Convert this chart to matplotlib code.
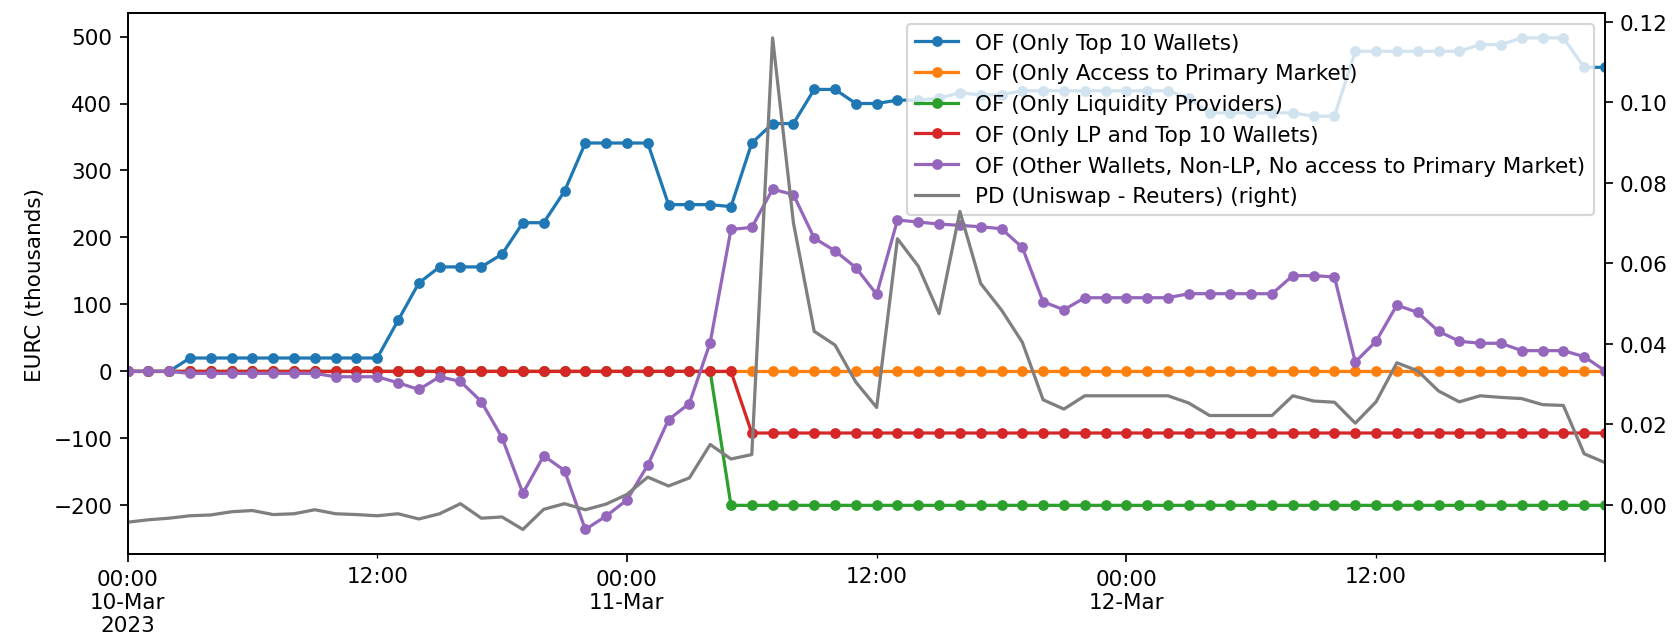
import matplotlib
matplotlib.use("Agg")
import matplotlib.pyplot as plt
import pandas as pd

# hourly, 10-Mar-2023 00:00 .. 12-Mar-2023 23:00
start = "2023-03-10 00:00"
n_hours = 72

top10 = [0, 0, 0, 20, 20, 20, 20, 20, 20, 20, 20, 20,
         20, 76, 132, 156, 156, 156, 175, 222, 222, 269, 341, 341,
         341, 341, 249, 249, 249, 246, 341, 370, 370, 421, 421, 400,
         400, 405, 405, 408, 416, 413, 413, 419, 419, 419, 419, 419,
         419, 419, 419, 408, 386, 386, 386, 386, 386, 381, 381, 478,
         478, 478, 478, 478, 478, 488, 488, 498, 498, 498, 454, 454]

primary = [0, 0, 0, 0, 0, 0, 0, 0, 0, 0, 0, 0,
           0, 0, 0, 0, 0, 0, 0, 0, 0, 0, 0, 0,
           0, 0, 0, 0, 0, 0, 0, 0, 0, 0, 0, 0,
           0, 0, 0, 0, 0, 0, 0, 0, 0, 0, 0, 0,
           0, 0, 0, 0, 0, 0, 0, 0, 0, 0, 0, 0,
           0, 0, 0, 0, 0, 0, 0, 0, 0, 0, 0, 0]

lp = [0, 0, 0, 0, 0, 0, 0, 0, 0, 0, 0, 0,
      0, 0, 0, 0, 0, 0, 0, 0, 0, 0, 0, 0,
      0, 0, 0, 0, 0, -200, -200, -200, -200, -200, -200, -200,
      -200, -200, -200, -200, -200, -200, -200, -200, -200, -200, -200, -200,
      -200, -200, -200, -200, -200, -200, -200, -200, -200, -200, -200, -200,
      -200, -200, -200, -200, -200, -200, -200, -200, -200, -200, -200, -200]

lp_top10 = [0, 0, 0, 0, 0, 0, 0, 0, 0, 0, 0, 0,
            0, 0, 0, 0, 0, 0, 0, 0, 0, 0, 0, 0,
            0, 0, 0, 0, 0, 0, -92, -92, -92, -92, -92, -92,
            -92, -92, -92, -92, -92, -92, -92, -92, -92, -92, -92, -92,
            -92, -92, -92, -92, -92, -92, -92, -92, -92, -92, -92, -92,
            -92, -92, -92, -92, -92, -92, -92, -92, -92, -92, -92, -92]

other = [0, 0, 0, -3, -3, -3, -3, -3, -3, -3, -8, -8,
         -8, -17, -27, -8, -15, -45, -99, -182, -126, -148, -236, -216,
         -192, -140, -72, -48, 43, 212, 215, 272, 264, 199, 180, 155,
         115, 226, 223, 220, 218, 216, 213, 185, 104, 92, 110, 110,
         110, 110, 110, 116, 116, 116, 116, 116, 143, 143, 141, 14,
         45, 99, 88, 60, 45, 42, 42, 31, 31, 31, 22, 1]

price_diff = [-0.0043, -0.0037, -0.0033, -0.0027, -0.0025, -0.0017, -0.0014, -0.0024, -0.0022, -0.0012, -0.0022, -0.0024,
              -0.0027, -0.0022, -0.0035, -0.0022, 0.0003, -0.0033, -0.0030, -0.0061, -0.0011, 0.0003, -0.0012, 0.0002,
              0.0026, 0.0069, 0.0047, 0.0067, 0.0150, 0.0114, 0.0125, 0.1160, 0.0701, 0.0431, 0.0397, 0.0305,
              0.0242, 0.0661, 0.0593, 0.0475, 0.0729, 0.0550, 0.0484, 0.0404, 0.0261, 0.0238, 0.0271, 0.0271,
              0.0271, 0.0271, 0.0271, 0.0253, 0.0222, 0.0222, 0.0222, 0.0222, 0.0271, 0.0258, 0.0255, 0.0203,
              0.0256, 0.0353, 0.0333, 0.0283, 0.0256, 0.0271, 0.0267, 0.0264, 0.0249, 0.0247, 0.0127, 0.0105]

of_cols = ["OF (Only Top 10 Wallets)",
           "OF (Only Access to Primary Market)",
           "OF (Only Liquidity Providers)",
           "OF (Only LP and Top 10 Wallets)",
           "OF (Other Wallets, Non-LP, No access to Primary Market)"]
pd_col = "PD (Uniswap - Reuters)"

idx = pd.date_range(start, periods=n_hours, freq="h")
df = pd.DataFrame({of_cols[0]: top10,
                   of_cols[1]: primary,
                   of_cols[2]: lp,
                   of_cols[3]: lp_top10,
                   of_cols[4]: other,
                   pd_col: price_diff}, index=idx)

dpi = 155
fig, ax = plt.subplots(figsize=(1679.9 / dpi, 644.9 / dpi))
df[of_cols].plot(ax=ax, marker='o', markersize=4)
df[pd_col].plot(ax=ax, secondary_y=True, color='#7f7f7f', legend=True)

ax.set_ylabel('EURC (thousands)')
ax.set_xlabel('')
leg = ax.get_legend()
if leg is not None:
    leg.set_loc('upper right')

plt.subplots_adjust(left=0.0759, right=0.9554, top=0.978, bottom=0.1395)
plt.savefig("out.png", dpi=dpi)
